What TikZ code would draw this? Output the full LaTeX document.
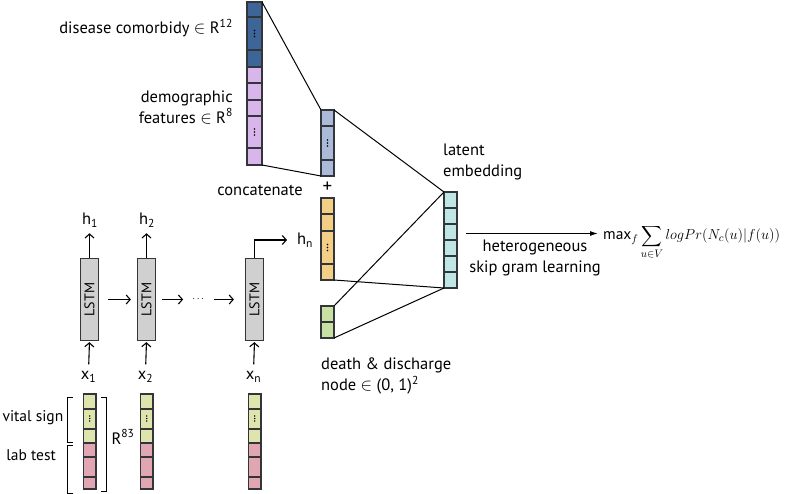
\documentclass[tikz,border=0pt]{standalone}
\usepackage{fontspec}
\setmainfont{PT Sans}
\usepackage{amsmath}
\usetikzlibrary{arrows.meta,positioning,calc}
\definecolor{comorbcol}{RGB}{62,101,152}
\definecolor{democol}{RGB}{216,182,236}
\definecolor{catcol}{RGB}{170,186,216}
\definecolor{hidcol}{RGB}{244,206,132}
\definecolor{latentcol}{RGB}{190,230,228}
\definecolor{deathcol}{RGB}{200,224,162}
\definecolor{vitalcol}{RGB}{222,228,172}
\definecolor{labcol}{RGB}{226,166,178}
\definecolor{lstmgray}{RGB}{208,208,208}
\definecolor{cellline}{RGB}{50,54,58}
\tikzset{
    cell line/.style={draw=cellline,line width=1.2pt},
    vec/.style={cell line,inner sep=0pt,outer sep=0pt,minimum width=13pt,anchor=north west},
    lstm box/.style={cell line,fill=lstmgray,inner sep=0pt,minimum width=18pt,minimum height=82pt},
    arr/.style={-{Straight Barb[length=4pt,width=9pt]},line width=1.1pt},
    big arr/.style={-{Latex[length=8pt,width=5pt]},line width=1.1pt},
    link/.style={line width=1pt},
    lbl/.style={font=\fontsize{16.5}{21}\selectfont,inner sep=0pt},
    small lbl/.style={font=\fontsize{15.5}{20}\selectfont,inner sep=0pt},
    cell dots/.pic={\foreach \d in {-3,0,3} \fill (0,\d) circle (0.9);},
    small dots/.pic={\foreach \d in {-2.5,0,2.5} \fill (0,\d) circle (0.6);},
}

\begin{document}
\begin{tikzpicture}[x=1pt,y=-1pt]
    \useasboundingbox (0,0) rectangle (792,494);
    % static features
    \node[vec,fill=comorbcol,minimum width=15pt,minimum height=65pt] (dis) at (247,2) {};
    \node[vec,fill=democol,minimum width=15pt,minimum height=98pt] (demo) at (247,67) {};
    \foreach \y in {17,50,83,100,116,148} \draw[cell line] (247,\y) -- (262,\y);
    \pic at (254.5,33.5) {cell dots};
    \pic at (254.5,132) {cell dots};
    \node[lbl,anchor=east] (dislbl) at (233,28) {disease comorbidy $\in$ R\textsuperscript{12}};
    \node[lbl,anchor=east,align=right] (demolbl) at (233,107) {demographic\\features $\in$ R\textsuperscript{8}};

    % concatenated vector
    \node[vec,fill=catcol,minimum height=66pt] (cat) at (321,110) {};
    \foreach \y in {126,160} \draw[cell line] (321,\y) -- (334,\y);
    \pic at (327.5,143) {cell dots};
    \node[lbl] (catlbl) at (260,190) {concatenate};
    \node[font=\fontsize{19}{19}\selectfont,inner sep=0pt] (plus) at (327.5,187) {+};

    % last hidden state
    \node[vec,fill=hidcol,minimum height=82pt] (hvec) at (321,198) {};
    \foreach \y in {214,231,264} \draw[cell line] (321,\y) -- (334,\y);
    \pic at (327.5,247.5) {cell dots};

    % death & discharge
    \node[vec,fill=deathcol,minimum height=32pt] (death) at (321,306) {};
    \draw[cell line] (321,322) -- (334,322);
    \node[lbl,anchor=west,align=left] (deathlbl) at (321,376) {death \& discharge\\node $\in$ (0, 1)\textsuperscript{2}};

    % latent embedding
    \node[vec,fill=latentcol,minimum height=96pt] (latent) at (444,192) {};
    \foreach \y in {208,224,...,272} \draw[cell line] (444,\y) -- (457,\y);
    \node[lbl,anchor=west,align=left] (latlbl) at (443,162) {latent\\embedding};

    \draw[link] (dis.north east) -- (cat.north west);
    \draw[link] (demo.south east) -- (cat.south west);
    \draw[link] (cat.north east) -- (latent.north west);
    \draw[link] (hvec.south east) -- (latent.south west);
    \draw[link] (death.north east) -- (latent.north west);
    \draw[link] (death.south east) -- (latent.south west);

    % objective
    \node[anchor=west,inner sep=0pt,font=\fontsize{15.5}{17}\selectfont] (obj) at (603,242)
        {$\displaystyle \mathrm{max}_f \sum_{u\in V} logPr(N_c(u)|f(u))$};
    \coordinate (objin) at (598,233.5);
    \draw[big arr,shorten <=9pt] (latent.east |- objin) -- (objin);
    \node[lbl,align=center] (skiplbl) at (535,258) {heterogeneous\\skip gram learning};

    % LSTM chain
    \foreach \n/\x/\s in {1/89.5/1,2/146.5/2,3/254.5/n} {
        \node[lstm box] (l\n) at (\x,299.5) {};
        \node[rotate=90,font=\fontsize{14}{14}\selectfont,inner sep=0pt] at (l\n) {LSTM};
        \node[lbl] (x\n) at (\x-1,377) {x\textsubscript{\s}};
        \draw[arr,shorten <=7pt,shorten >=1pt] (x\n.north) -- (l\n.south);
        % inputs
        \node[vec,fill=vitalcol,minimum height=49pt,minimum width=12.5pt] (v\n) at (\x-6,394) {};
        \node[vec,fill=labcol,minimum height=46pt,minimum width=12.5pt] (p\n) at (\x-6,443) {};
        \foreach \y in {409,429,457,477} \draw[cell line] (v\n.west |- 0,\y) -- (v\n.east |- 0,\y);
        \pic at ($(v\n.west)!0.5!(v\n.east)$ |- 0,419) {small dots};
        \pic at ($(v\n.west)!0.5!(v\n.east)$ |- 0,467) {small dots};
    }
    \node[lbl] (h1) at (90,220) {h\textsubscript{1}};
    \node[lbl] (h2) at (147,220) {h\textsubscript{2}};
    \node[lbl,anchor=west] (h3) at (297,240) {h\textsubscript{n}};
    \draw[arr,shorten >=6pt] (l1.north) -- (l1.north |- h1.south);
    \draw[arr,shorten >=6pt] (l2.north) -- (l2.north |- h2.south);
    \draw[arr,shorten >=10pt] (l3.north) |- (h3.west);
    \node[inner sep=0pt] (ldots) at (199,299.5) {$\cdots$};
    \draw[arr,shorten <=9pt,shorten >=6pt] (l1) -- (l2);
    \draw[arr,shorten <=6pt,shorten >=9pt] (l2) -- (ldots);
    \draw[arr,shorten <=8pt,shorten >=11pt] (ldots) -- (l3);

    % brackets
    \draw[line width=1pt] (73,397) -- (67,397) -- (67,442) -- (73,442);
    \draw[line width=1pt] (73,445) -- (67,445) -- (67,493) -- (73,493);
    \draw[line width=1pt] (101,397) -- (106,397) -- (106,491) -- (101,491);
    \node[small lbl,anchor=east] (vitallbl) at (63.5,418) {vital sign};
    \node[small lbl,anchor=east] (lablbl) at (56,455) {lab test};
    \node[lbl] (rlbl) at (123,437) {R\textsuperscript{83}};
\end{tikzpicture}
\end{document}
